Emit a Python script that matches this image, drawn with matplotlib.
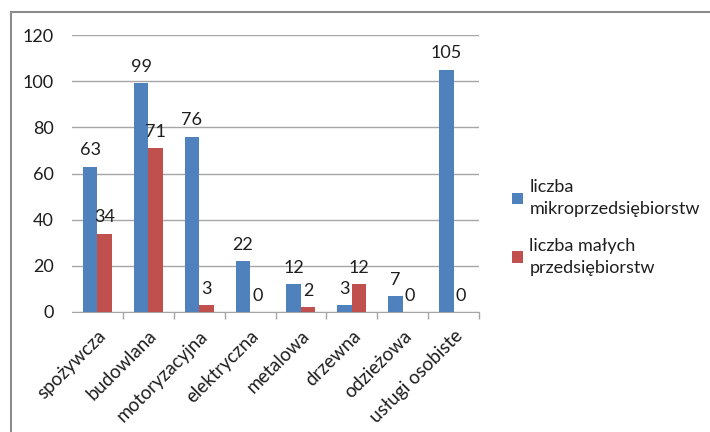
import matplotlib
matplotlib.use("Agg")
import matplotlib.pyplot as plt
import numpy as np
from matplotlib.lines import Line2D
from matplotlib.patches import Patch

categories = ["spożywcza", "budowlana", "motoryzacyjna", "elektryczna",
              "metalowa", "drzewna", "odzieżowa", "usługi osobiste"]
micro = [63, 99, 76, 22, 12, 3, 7, 105]
small = [34, 71, 3, 0, 2, 12, 0, 0]
series_names = ["liczba\nmikroprzedsiębiorstw", "liczba małych\nprzedsiębiorstw"]
yticks = [0, 20, 40, 60, 80, 100, 120]

plt.rcParams['font.family'] = ['Lato', 'DejaVu Sans']

W, H = 710, 432
fig = plt.figure(figsize=(W / 100, H / 100), dpi=100)
fig.patch.set_facecolor("white")

left, right, bottom, top = 72, 479, 312, 35
ax = fig.add_axes([left / W, 1 - bottom / H, (right - left) / W, (bottom - top) / H])

blue = "#4F81BD"
red = "#C0504D"
txt = "#1E1E1E"
fs = 13
x = np.arange(len(categories))
bw = 0.285
b1 = ax.bar(x - bw / 2, micro, bw, color=blue, zorder=3)
b2 = ax.bar(x + bw / 2, small, bw, color=red, zorder=3)

for bars, vals in ((b1, micro), (b2, small)):
    for r, v in zip(bars, vals):
        ax.annotate(str(v), (r.get_x() + r.get_width() / 2, v), xytext=(0, 6),
                    textcoords="offset points", ha="center", va="bottom",
                    fontsize=fs, color=txt)

ax.set_xlim(-0.5, len(categories) - 0.5)
ax.set_ylim(0, 120)
ax.set_yticks(yticks)
ax.set_yticklabels([str(t) for t in yticks], fontsize=fs, color=txt)
ax.yaxis.grid(True, color="#A6A6A6", linewidth=1, zorder=0)
ax.tick_params(axis="y", length=0, pad=13)

ax.set_xticks(x)
ax.set_xticklabels(categories, rotation=45, ha="right", rotation_mode="anchor",
                   fontsize=13.5, color=txt)
ax.tick_params(axis="x", which="major", length=0, pad=11)
ax.set_xticks(np.arange(0.5, len(categories), 1.0), minor=True)
ax.tick_params(axis="x", which="minor", length=5, color="#A6A6A6", width=1)

for s in ("top", "right", "left"):
    ax.spines[s].set_visible(False)
ax.spines["bottom"].set_color("#A6A6A6")

handles = [Patch(facecolor=blue), Patch(facecolor=red)]
leg = fig.legend(handles, series_names, loc="upper left",
                 bbox_to_anchor=(496 / W, 1 - 163 / H), frameon=False,
                 fontsize=fs, handlelength=0.6, handleheight=0.6, handletextpad=0.35,
                 labelspacing=1.15, labelcolor=txt)
for t in leg.get_texts():
    t.set_linespacing(1.45)

# outer frame (top and left edges visible)
fig.add_artist(Line2D([11 / W, 1.0], [1 - 12 / H, 1 - 12 / H], color="#8C8C8C",
                      linewidth=1.5, transform=fig.transFigure))
fig.add_artist(Line2D([11 / W, 11 / W], [1 - 12 / H, 0.0], color="#8C8C8C",
                      linewidth=1.5, transform=fig.transFigure))

fig.savefig("out.png", dpi=100)
